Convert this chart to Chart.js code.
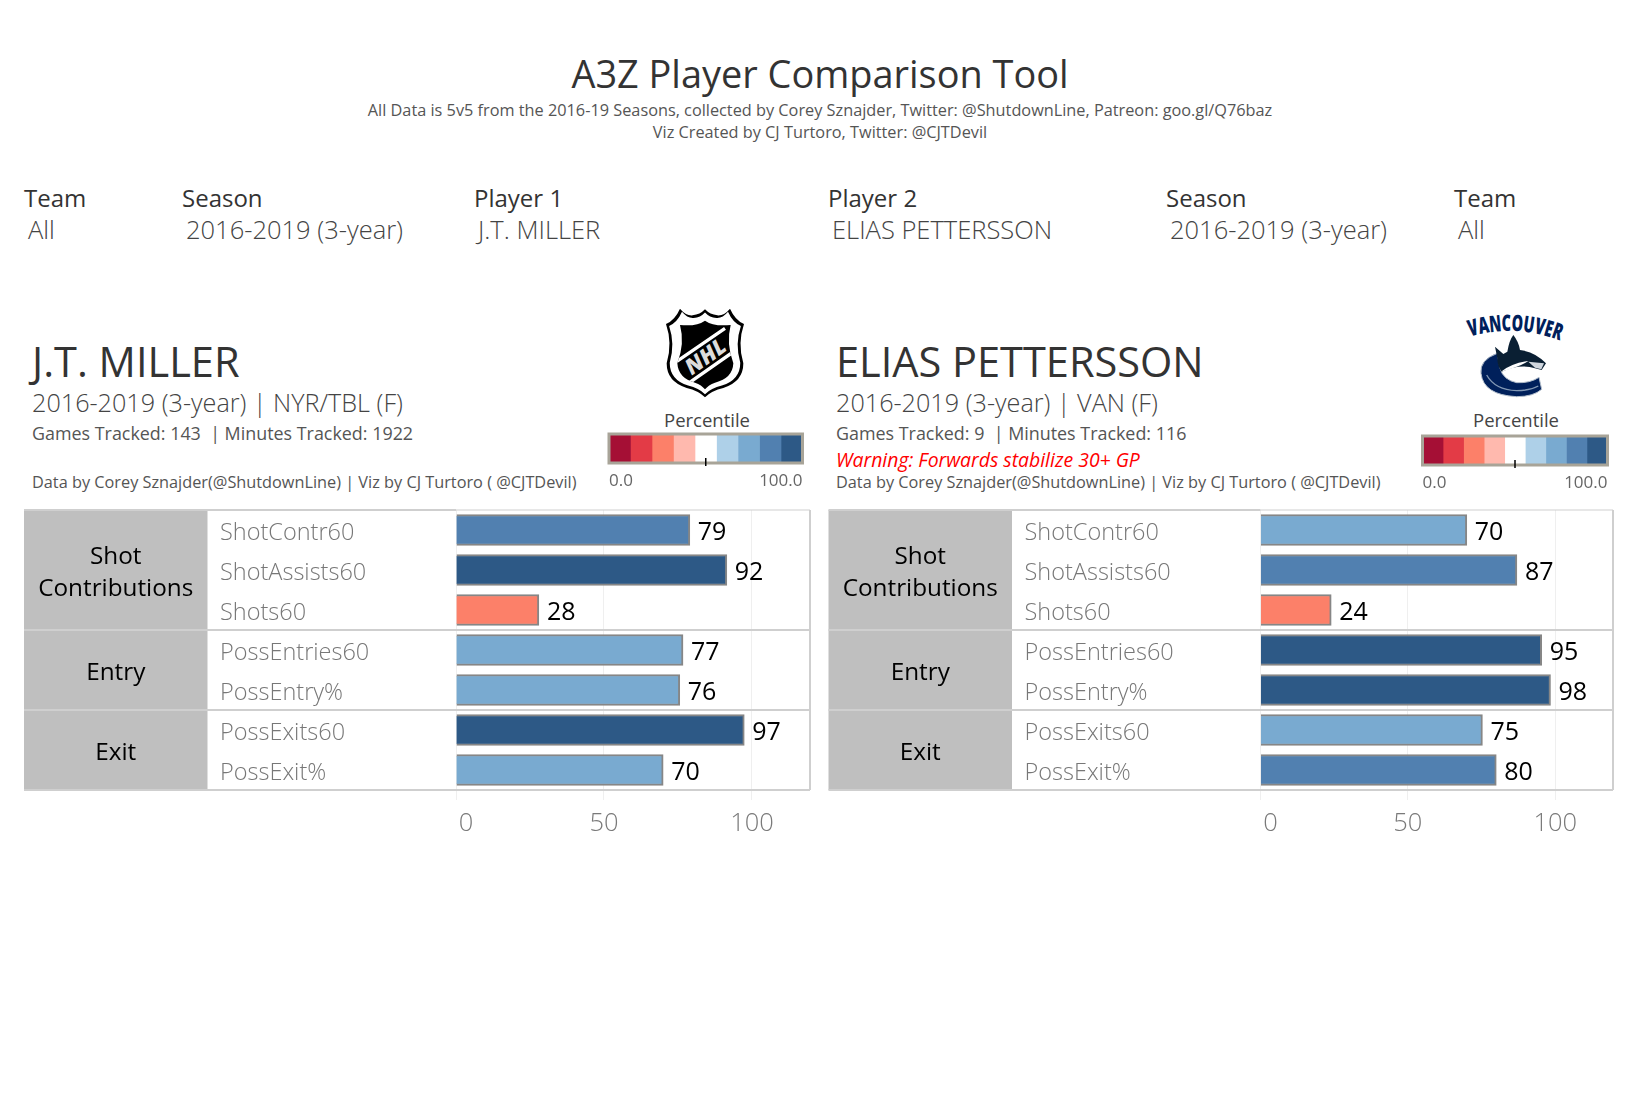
<!DOCTYPE html>
<html lang="en">
<head>
  <meta charset="UTF-8" />
  <title>A3Z Player Comparison Tool</title>
  <script src="https://cdn.jsdelivr.net/npm/chart.js"></script>
  <style>
    body { margin: 0; background: #fff; font-family: "Open Sans", sans-serif; overflow: hidden; }
    .t { position: absolute; white-space: nowrap; line-height: 1; }
    .c { transform: translateX(-50%); }
    .head { color: #333; font-size: 24px; }
    .val { color: #444; font-size: 25.5px; font-weight: 300; }
    .name { color: #333; font-size: 41.5px; }
    .sub { color: #444; font-size: 25.2px; font-weight: 300; }
    .games { color: #555; font-size: 17.9px; }
    .credit { color: #555; font-size: 16.3px; }
    .warn { color: #f00; font-size: 19.4px; font-style: italic; }
    .pct { color: #444; font-size: 18.5px; }
    canvas, svg { position: absolute; }
  </style>
</head>
<body>
  <div class="t c" style="left:820px;top:55px;font-size:37.9px;color:#333">A3Z Player Comparison Tool</div>
  <div class="t c" style="left:820px;top:102px;font-size:16.3px;color:#555">All Data is 5v5 from the 2016-19 Seasons, collected by Corey Sznajder, Twitter: @ShutdownLine, Patreon: goo.gl/Q76baz</div>
  <div class="t c" style="left:820px;top:124px;font-size:16.3px;color:#555">Viz Created by CJ Turtoro, Twitter: @CJTDevil</div>

  <div class="t head" style="left:24px;top:186px">Team</div>
  <div class="t val" style="left:28px;top:217px">All</div>
  <div class="t head" style="left:182px;top:186px">Season</div>
  <div class="t val" style="left:186px;top:217px">2016-2019 (3-year)</div>
  <div class="t head" style="left:474px;top:186px">Player 1</div>
  <div class="t val" style="left:478px;top:217px">J.T. MILLER</div>
  <div class="t head" style="left:828px;top:186px">Player 2</div>
  <div class="t val" style="left:832px;top:217px">ELIAS PETTERSSON</div>
  <div class="t head" style="left:1166px;top:186px">Season</div>
  <div class="t val" style="left:1170px;top:217px">2016-2019 (3-year)</div>
  <div class="t head" style="left:1454px;top:186px">Team</div>
  <div class="t val" style="left:1458px;top:217px">All</div>

  <div class="t name" style="left:32px;top:341px">J.T. MILLER</div>
  <div class="t sub" style="left:32px;top:390px">2016-2019 (3-year) | NYR/TBL (F)</div>
  <div class="t games" style="left:32px;top:425px">Games Tracked: 143 &nbsp;| Minutes Tracked: 1922</div>
  <div class="t credit" style="left:32px;top:474px">Data by Corey Sznajder(@ShutdownLine) | Viz by CJ Turtoro ( @CJTDevil)</div>

  <div class="t name" style="left:836px;top:341px">ELIAS PETTERSSON</div>
  <div class="t sub" style="left:836px;top:390px">2016-2019 (3-year) | VAN (F)</div>
  <div class="t games" style="left:836px;top:425px">Games Tracked: 9 &nbsp;| Minutes Tracked: 116</div>
  <div class="t warn" style="left:836px;top:450px">Warning: Forwards stabilize 30+ GP</div>
  <div class="t credit" style="left:836px;top:474px">Data by Corey Sznajder(@ShutdownLine) | Viz by CJ Turtoro ( @CJTDevil)</div>

  <div class="t pct c" style="left:707px;top:411px">Percentile</div>
  <div class="t pct c" style="left:1516px;top:411px">Percentile</div>

  <!-- NHL shield -->
  <svg style="left:600px;top:300px" width="220" height="110" viewBox="0 0 660 330">
    <defs>
      <clipPath id="shieldClip">
        <path id="shieldInner" d="M315 62 Q290 80 240 75 Q255 130 232 190 Q235 235 285 248 Q305 255 315 268 Q325 255 345 248 Q398 235 400 190 Q378 130 392 75 Q340 80 315 62 Z"/>
      </clipPath>
    </defs>
    <path d="M240 26 Q258 48 278 46 Q300 44 315 28 Q330 44 352 46 Q372 48 390 26 Q405 60 432 72 Q412 130 430 190 Q430 245 370 264 Q335 272 315 292 Q295 272 260 264 Q200 245 200 190 Q218 130 198 72 Q225 60 240 26 Z" fill="#000"/>
    <path transform="translate(315 160) scale(0.92 0.93) translate(-315 -160)" d="M240 26 Q258 48 278 46 Q300 44 315 28 Q330 44 352 46 Q372 48 390 26 Q405 60 432 72 Q412 130 430 190 Q430 245 370 264 Q335 272 315 292 Q295 272 260 264 Q200 245 200 190 Q218 130 198 72 Q225 60 240 26 Z" fill="#fff"/>
    <path d="M315 62 Q290 80 240 75 Q255 130 232 190 Q235 235 285 248 Q305 255 315 268 Q325 255 345 248 Q398 235 400 190 Q378 130 392 75 Q340 80 315 62 Z" fill="#000"/>
    <g clip-path="url(#shieldClip)">
      <path d="M215 195 L375 85 M265 250 L415 145" stroke="#fff" stroke-width="10" fill="none"/>
    </g>
    <text x="318" y="192" transform="rotate(-36 318 172)" text-anchor="middle" font-family="Open Sans" font-style="italic" font-weight="800" font-size="66" fill="#dcdcdc">NHL</text>
  </svg>

  <!-- Canucks logo -->
  <svg style="left:1420px;top:300px" width="218" height="110" viewBox="0 0 654 330">
    <defs><path id="vanArc" d="M150 110 Q285 70 420 122" fill="none"/></defs>
    <text font-family="Open Sans" font-weight="800" font-size="68" fill="#00205b" textLength="275" lengthAdjust="spacingAndGlyphs"><textPath href="#vanArc">VANCOUVER</textPath></text>
    <path d="M232 160 Q178 180 183 220 Q190 285 290 290 Q340 290 365 268 L357 232 Q330 250 290 248 Q250 240 240 205 Z" fill="#00205b" stroke="#b4bfcc" stroke-width="3"/>
    <path d="M225 140 L250 162 L262 155 Q268 120 280 105 Q296 125 300 150 Q345 155 378 190 L365 210 L345 205 Q300 190 245 215 Q232 200 232 175 Z" fill="#0a1f33"/>
    <path d="M243 215 Q275 190 325 183 Q300 200 243 215 Z" fill="#fff"/>
    <path d="M325 185 L372 190 L364 208 L345 203 Z" fill="#cfd6de"/>
    <path d="M200 225 Q225 270 290 272 Q330 272 355 258" fill="none" stroke="#8298b4" stroke-width="4"/>
  </svg>

  <canvas id="panelLeft" width="795" height="340" style="left:20px;top:505px"></canvas>
  <canvas id="panelRight" width="795" height="340" style="left:823px;top:505px"></canvas>
  <canvas id="legendLeft" width="210" height="70" style="left:600px;top:429px"></canvas>
  <canvas id="legendRight" width="210" height="70" style="left:1414px;top:431px"></canvas>

  <script>
    const FONT = '"Open Sans", sans-serif';

    const metrics = ['ShotContr60', 'ShotAssists60', 'Shots60', 'PossEntries60', 'PossEntry%', 'PossExits60', 'PossExit%'];
    // bar lengths; the printed labels are these rounded
    const millerValues = [79, 91.5, 28, 76.7, 75.6, 97.4, 70];
    const petterssonValues = [70, 87, 24, 95.4, 98.4, 75.3, 80];

    const groupLabels = [['Shot', 'Contributions'], ['Entry'], ['Exit']];
    const groupCounts = [3, 2, 2];

    const legendColors = ['#a50f35', '#e33b46', '#fc8069', '#ffb9ae', '#ffffff', '#aed0e8', '#79aad0', '#5180b0', '#2d5986'];
    const legendBins = [11.11, 11.11, 11.11, 11.11, 11.12, 11.11, 11.11, 11.11, 11.11];

    // bucket a percentile into the same 9 steps as the legend
    function colorFor(v) {
      return legendColors[Math.min(8, Math.floor(v / 100 * 9))];
    }

    // grey group blocks, table rules and the value next to each bar
    const tablePlugin = {
      id: 'table',
      afterDraw(chart) {
        const { ctx, scales: { x, y } } = chart;
        const band = y.height / metrics.length;
        const left = y.left - 196;
        const greyRight = y.left - 12.5;
        let row = 0;

        ctx.save();
        groupLabels.forEach((lines, g) => {
          const top = y.top + row * band;
          const h = groupCounts[g] * band;
          ctx.fillStyle = '#bfbfbf';
          ctx.fillRect(left, top, greyRight - left, h);
          ctx.fillStyle = '#000';
          ctx.font = '24.3px ' + FONT;
          ctx.textAlign = 'center';
          ctx.textBaseline = 'middle';
          lines.forEach((line, i) => {
            ctx.fillText(line, (left + greyRight) / 2, top + h / 2 + 3 + (i - (lines.length - 1) / 2) * 32.5);
          });
          row += groupCounts[g];
        });

        ctx.strokeStyle = '#cfcfcf';
        ctx.lineWidth = 2;
        ctx.beginPath();
        ctx.moveTo(left, y.top);
        ctx.lineTo(x.left, y.top);
        row = 0;
        groupCounts.forEach(n => {
          row += n;
          ctx.moveTo(left, y.top + row * band);
          ctx.lineTo(x.right, y.top + row * band);
        });
        ctx.moveTo(x.right, y.top);
        ctx.lineTo(x.right, y.bottom);
        ctx.stroke();
        ctx.lineWidth = 1;
        ctx.beginPath();
        ctx.moveTo(x.left, y.top);
        ctx.lineTo(x.right, y.top);
        ctx.stroke();

        const meta = chart.getDatasetMeta(0);
        ctx.fillStyle = '#000';
        ctx.font = '25px ' + FONT;
        ctx.textAlign = 'left';
        ctx.textBaseline = 'middle';
        meta.data.forEach((bar, i) => {
          ctx.fillText(Math.round(chart.data.datasets[0].data[i]), bar.x + 8, bar.y + 2.5);
        });
        ctx.restore();
      }
    };

    function makePanel(id, values, leftPad) {
      new Chart(document.getElementById(id), {
        type: 'bar',
        data: {
          labels: metrics,
          datasets: [{
            data: values,
            backgroundColor: values.map(colorFor),
            borderColor: '#868686',
            borderWidth: 2,
            barThickness: 31
          }]
        },
        options: {
          indexAxis: 'y',
          responsive: false,
          animation: false,
          layout: { padding: { left: leftPad, right: 5, top: 5, bottom: 0 } },
          plugins: { legend: { display: false }, tooltip: { enabled: false } },
          scales: {
            x: {
              min: 0,
              max: 119.6,
              afterFit(s) { s.height = 55; },
              grid: { color: '#efefef', tickColor: '#efefef', tickLength: 10 },
              border: { display: false },
              ticks: {
                stepSize: 50,
                includeBounds: false,
                maxRotation: 0,
                padding: 8,
                color: '#7a7a7a',
                font: { family: FONT, size: 25.5, weight: '300' },
                // the zero label sits a little right of its gridline
                callback: v => (v === 0 ? '   0' : String(v))
              }
            },
            y: {
              afterFit(s) { s.width = 236; s.paddingTop = 0; s.paddingBottom = 0; },
              grid: { display: false, drawTicks: false },
              border: { display: false },
              ticks: {
                crossAlign: 'far',
                autoSkip: false,
                labelOffset: 3,
                color: '#777',
                font: { family: FONT, size: 23.5, weight: '300' }
              }
            }
          }
        },
        plugins: [tablePlugin]
      });
    }

    const legendFrame = {
      id: 'legendFrame',
      afterDraw(chart) {
        const { ctx, chartArea: a, scales: { x } } = chart;
        ctx.save();
        ctx.strokeStyle = '#a8a498';
        ctx.lineWidth = 3;
        ctx.strokeRect(a.left, a.top, a.width, a.height);
        ctx.strokeStyle = '#000';
        ctx.lineWidth = 1.5;
        ctx.beginPath();
        ctx.moveTo(x.getPixelForValue(50), a.bottom - 5);
        ctx.lineTo(x.getPixelForValue(50), a.bottom + 3);
        ctx.stroke();
        ctx.restore();
      }
    };

    function makeLegend(id, leftPad, rightPad) {
      new Chart(document.getElementById(id), {
        type: 'bar',
        data: {
          labels: ['Percentile'],
          datasets: legendBins.map((v, i) => ({
            data: [v],
            backgroundColor: legendColors[i],
            barPercentage: 1,
            categoryPercentage: 1
          }))
        },
        options: {
          indexAxis: 'y',
          responsive: false,
          animation: false,
          layout: { padding: { left: leftPad, right: rightPad, top: 5, bottom: 5 } },
          plugins: { legend: { display: false }, tooltip: { enabled: false } },
          scales: {
            x: {
              stacked: true,
              min: 0,
              max: 100,
              afterFit(s) { s.height = 31; s.paddingLeft = 0; s.paddingRight = 0; },
              grid: { display: false, drawTicks: false },
              border: { display: false },
              ticks: {
                stepSize: 100,
                align: 'inner',
                maxRotation: 0,
                padding: 8,
                color: '#666',
                font: { family: FONT, size: 17 },
                callback: v => v.toFixed(1)
              }
            },
            y: { stacked: true, display: false }
          }
        },
        plugins: [legendFrame]
      });
    }

    makePanel('panelLeft', millerValues, 200);
    makePanel('panelRight', petterssonValues, 201.5);
    makeLegend('legendLeft', 9, 7.5);
    makeLegend('legendRight', 8.5, 16.5);
  </script>
</body>
</html>
